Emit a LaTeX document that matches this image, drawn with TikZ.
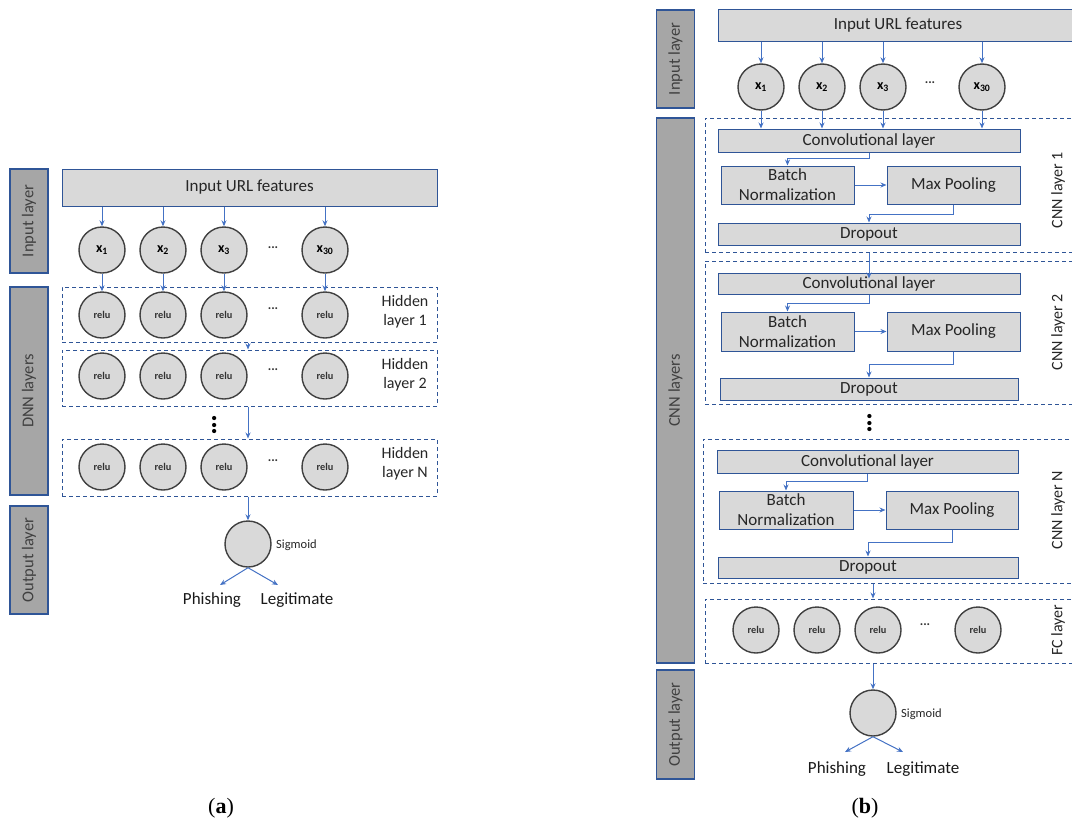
\documentclass[tikz,border=0pt]{standalone}
\usepackage{fontspec}
\setmainfont{Carlito}
\newfontfamily\capfont{Liberation Serif}
\usetikzlibrary{positioning,arrows.meta,calc}

\definecolor{boxfill}{HTML}{D9D9D9}
\definecolor{barfill}{HTML}{A6A6A6}
\definecolor{edgeblue}{HTML}{2F5597}
\definecolor{flowblue}{HTML}{4472C4}
\definecolor{ringgray}{HTML}{404040}

\begin{document}
\begin{tikzpicture}[
    x=1pt, y=-1pt,
    font=\fontsize{17}{20}\selectfont,
    bar/.style       = {rectangle, draw=edgeblue, fill=barfill, line width=1.2pt,
                        minimum height=38pt, inner sep=0pt, rotate=90,
                        text=black!75, font=\fontsize{16.5}{18}\selectfont},
    featbox/.style   = {rectangle, draw=edgeblue, fill=boxfill, line width=1pt,
                        inner sep=0pt, align=center, text=black!85},
    unit/.style      = {circle, draw=ringgray, fill=boxfill, line width=1.4pt,
                        minimum size=46pt, inner sep=0pt},
    xunit/.style     = {unit, font=\fontsize{14}{16}\selectfont\bfseries},
    reluunit/.style  = {unit, font=\fontsize{10.3}{12}\selectfont\bfseries, text=black!80},
    layerbox/.style  = {rectangle, draw=edgeblue, line width=1pt,
                        dash pattern=on 4pt off 3pt, inner sep=0pt},
    flow/.style      = {-{Stealth[length=6pt,width=5pt]}, draw=flowblue, line width=1pt},
    hdots/.style     = {font=\fontsize{13}{15}\selectfont\bfseries, text=black!80},
    vdotsnode/.style = {rotate=90, font=\fontsize{12}{12}\selectfont, inner sep=0pt},
    sidetext/.style  = {font=\fontsize{16}{19}\selectfont, align=center, text=black!85},
    sigtext/.style   = {font=\fontsize{12.5}{14}\selectfont, text=black!85},
    outtext/.style   = {font=\fontsize{17}{20}\selectfont, text=black!90},
    caption/.style   = {font=\capfont\fontsize{22}{24}\selectfont}
]

\useasboundingbox (0,0) rectangle (1072,825);
\clip (0,0) rectangle (1072,825);

% =========================== (a) DNN ========================================
% --- Side bars ---------------------------------------------------------------
\node[bar, minimum width=104pt] (inbarA)  at (29,221) {Input layer};
\node[bar, minimum width=208pt] (dnnbarA) at (29,391) {DNN layers};
\node[bar, minimum width=108pt] (outbarA) at (29,560) {Output layer};

% --- Input ---------------------------------------------------------------------
\node[featbox, minimum width=375pt, minimum height=37pt] (inputA) at (249.5,187.5)
  {Input URL features};

\node[xunit] (xa1) at (102,250) {x\textsubscript{1}};
\node[xunit] (xa2) at (163,250) {x\textsubscript{2}};
\node[xunit] (xa3) at (224,250) {x\textsubscript{3}};
\node[hdots] (xadots) at (273,248) {...};
\node[xunit] (xa4) at (325,250) {x\textsubscript{30}};

% --- Hidden layers -------------------------------------------------------------
\node[layerbox, minimum width=375pt, minimum height=55pt] (hidA1) at (249.5,314.5) {};
\node[reluunit] (ra11) at (102,315) {relu};
\node[reluunit] (ra12) at (163,315) {relu};
\node[reluunit] (ra13) at (224,315) {relu};
\node[hdots]    (ra1dots) at (273,309) {...};
\node[reluunit] (ra14) at (325,315) {relu};
\node[sidetext] (hidA1txt) at (405,312) {Hidden\\layer 1};

\node[layerbox, minimum width=375pt, minimum height=56pt] (hidA2) at (249.5,378) {};
\node[reluunit] (ra21) at (102,376) {relu};
\node[reluunit] (ra22) at (163,376) {relu};
\node[reluunit] (ra23) at (224,376) {relu};
\node[hdots]    (ra2dots) at (273,370) {...};
\node[reluunit] (ra24) at (325,376) {relu};
\node[sidetext] (hidA2txt) at (405,375) {Hidden\\layer 2};

\node[vdotsnode] (vdA) at (215,425) {\textbullet\hspace{0.5pt}\textbullet\hspace{0.5pt}\textbullet};

\node[layerbox, minimum width=375pt, minimum height=57pt] (hidAN) at (249.5,467.5) {};
\node[reluunit] (raN1) at (102,467) {relu};
\node[reluunit] (raN2) at (163,467) {relu};
\node[reluunit] (raN3) at (224,467) {relu};
\node[hdots]    (raNdots) at (273,461) {...};
\node[reluunit] (raN4) at (325,467) {relu};
\node[sidetext] (hidANtxt) at (405,464) {Hidden\\layer N};

% --- Output --------------------------------------------------------------------
\node[unit] (sigA) at (248,544) {};
\node[sigtext, right=1pt of sigA.east, yshift=-1pt] (sigAtxt) {Sigmoid};
\node[outtext] (phishA) at (212,600) {Phishing};
\node[outtext] (legitA) at (297,600) {Legitimate};
\coordinate (phA) at (220,585);
\coordinate (lgA) at (278,585);

\node[caption] (capA) at (221,808) {(\textbf{a})};

% --- Flows ---------------------------------------------------------------------
\draw[flow] (inputA.south -| xa1) -- (xa1);
\draw[flow] (inputA.south -| xa2) -- (xa2);
\draw[flow] (inputA.south -| xa3) -- (xa3);
\draw[flow] (inputA.south -| xa4) -- (xa4);

\draw[flow] (xa1) -- (ra11);
\draw[flow] (xa2) -- (ra12);
\draw[flow] (xa3) -- (ra13);
\draw[flow] (xa4) -- (ra14);

\draw[flow] (hidA1.south -| sigA) -- (hidA2.north -| sigA);
\draw[flow] (hidA2.south -| sigA) -- (hidAN.north -| sigA);
\draw[flow] (hidAN.south -| sigA) -- (sigA);
\draw[flow] (sigA.south) -- (phA);
\draw[flow] (sigA.south) -- (lgA);

% =========================== (b) CNN ========================================
% --- Side bars ---------------------------------------------------------------
\node[bar, minimum width=98pt]  (inbarB)  at (675.5,59)    {Input layer};
\node[bar, minimum width=545pt] (cnnbarB) at (675.5,390.5) {CNN layers};
\node[bar, minimum width=109pt] (outbarB) at (675.5,724.5) {Output layer};

% --- Input ---------------------------------------------------------------------
\node[featbox, minimum width=360pt, minimum height=32pt] (inputB) at (898,25)
  {Input URL features};

\node[xunit] (xb1) at (761,87) {x\textsubscript{1}};
\node[xunit] (xb2) at (822,87) {x\textsubscript{2}};
\node[xunit] (xb3) at (883,87) {x\textsubscript{3}};
\node[hdots] (xbdots) at (930,83) {...};
\node[xunit] (xb4) at (982,87) {x\textsubscript{30}};

% --- CNN layer 1 -----------------------------------------------------------------
\node[layerbox, minimum width=375pt, minimum height=134pt] (cnn1) at (892.5,185) {};
\node[featbox, minimum width=302pt, minimum height=23pt] (conv1) at (869,140.5) {Convolutional layer};
\node[featbox, minimum width=133pt, minimum height=38pt, font=\fontsize{17}{20}\selectfont]
  (bn1) at (787.5,185) {Batch\\Normalization};
\node[featbox, minimum width=133pt, minimum height=38pt] (mp1) at (953.5,185) {Max Pooling};
\node[featbox, minimum width=302pt, minimum height=22pt] (drop1) at (869,234) {Dropout};
\node[sidetext, rotate=90] (cnn1txt) at (1058,190) {CNN layer 1};

% --- CNN layer 2 -----------------------------------------------------------------
\node[layerbox, minimum width=375pt, minimum height=143pt] (cnn2) at (892.5,332.5) {};
\node[featbox, minimum width=302pt, minimum height=21pt] (conv2) at (869,283.5) {Convolutional layer};
\node[featbox, minimum width=133pt, minimum height=39pt, font=\fontsize{17}{20}\selectfont]
  (bn2) at (787.5,331.5) {Batch\\Normalization};
\node[featbox, minimum width=133pt, minimum height=39pt] (mp2) at (953.5,331.5) {Max Pooling};
\node[featbox, minimum width=298pt, minimum height=22pt] (drop2) at (869,389) {Dropout};
\node[sidetext, rotate=90] (cnn2txt) at (1058,332) {CNN layer 2};

\node[vdotsnode] (vdB) at (870,423) {\textbullet\hspace{0.5pt}\textbullet\hspace{0.5pt}\textbullet};

% --- CNN layer N -----------------------------------------------------------------
\node[layerbox, minimum width=377pt, minimum height=144pt] (cnnN) at (891.5,511) {};
\node[featbox, minimum width=301pt, minimum height=23pt] (convN) at (867.5,461.5) {Convolutional layer};
\node[featbox, minimum width=134pt, minimum height=38pt, font=\fontsize{17}{20}\selectfont]
  (bnN) at (786,510) {Batch\\Normalization};
\node[featbox, minimum width=132pt, minimum height=38pt] (mpN) at (952,510) {Max Pooling};
\node[featbox, minimum width=300pt, minimum height=21pt] (dropN) at (868,567.5) {Dropout};
\node[sidetext, rotate=90] (cnnNtxt) at (1058,510) {CNN layer N};

% --- FC layer --------------------------------------------------------------------
\node[layerbox, minimum width=375pt, minimum height=64pt] (fcB) at (892.5,631) {};
\node[reluunit] (rb1) at (756,630) {relu};
\node[reluunit] (rb2) at (817,630) {relu};
\node[reluunit] (rb3) at (878,630) {relu};
\node[hdots]    (rbdots) at (925,625) {...};
\node[reluunit] (rb4) at (978,630) {relu};
\node[sidetext, rotate=90] (fctxt) at (1058,630) {FC layer};

% --- Output --------------------------------------------------------------------
\node[unit] (sigB) at (873,713) {};
\node[sigtext, right=1pt of sigB.east, yshift=-1pt] (sigBtxt) {Sigmoid};
\node[outtext] (phishB) at (837,769) {Phishing};
\node[outtext] (legitB) at (923,769) {Legitimate};
\coordinate (phB) at (845,752);
\coordinate (lgB) at (903,752);

\node[caption] (capB) at (865,808) {(\textbf{b})};

% --- Flows ---------------------------------------------------------------------
\draw[flow] (inputB.south -| xb1) -- (xb1);
\draw[flow] (inputB.south -| xb2) -- (xb2);
\draw[flow] (inputB.south -| xb3) -- (xb3);
\draw[flow] (inputB.south -| xb4) -- (xb4);

\draw[flow] (xb1) -- (conv1.north -| xb1);
\draw[flow] (xb2) -- (conv1.north -| xb2);
\draw[flow] (xb3) -- (conv1.north -| xb3);
\draw[flow] (xb4) -- (conv1.north -| xb4);

% inside each CNN block: conv -> batch norm -> max pooling -> dropout
\draw[flow] (conv1.south) -- ++(0,6) -| (bn1.north);
\draw[flow] (bn1) -- (mp1);
\draw[flow] (mp1.south) -- ++(0,10) -| (drop1.north);

\draw[flow] (conv2.south) -- ++(0,9) -| (bn2.north);
\draw[flow] (bn2) -- (mp2);
\draw[flow] (mp2.south) -- ++(0,13) -| (drop2.north);

\draw[flow] (convN.south) -- ++(0,8) -| (bnN.north);
\draw[flow] (bnN) -- (mpN);
\draw[flow] (mpN.south) -- ++(0,13) -| (dropN.north);

\draw[flow] (cnn1.south -| conv1) -- ([yshift=-6pt]conv2.north);
\draw[flow] (cnnN.south -| sigB) -- (fcB.north -| sigB);
\draw[flow] (fcB.south -| sigB) -- (sigB);
\draw[flow] (sigB.south) -- (phB);
\draw[flow] (sigB.south) -- (lgB);

\end{tikzpicture}
\end{document}
